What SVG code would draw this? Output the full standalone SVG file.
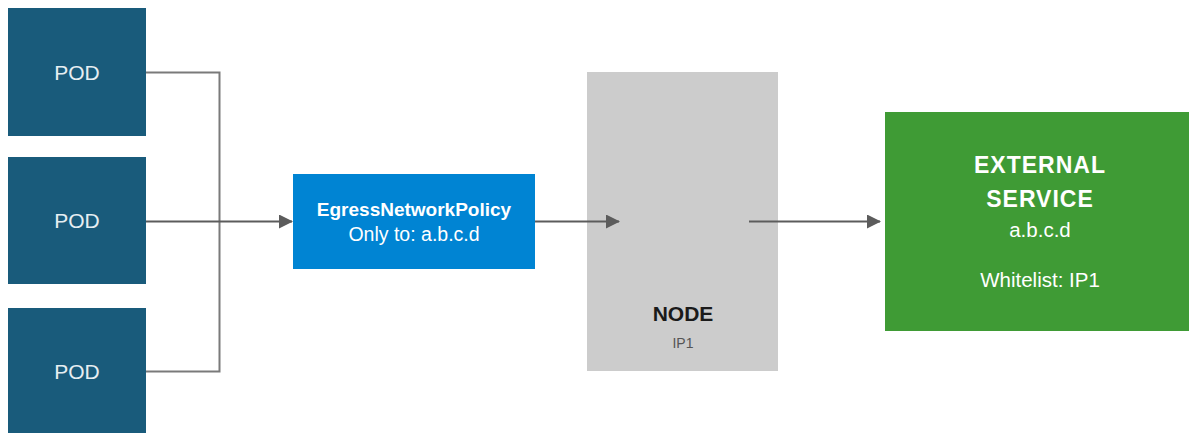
<svg xmlns="http://www.w3.org/2000/svg" width="1189" height="433" viewBox="0 0 1189 433">
<style>
.pod{fill:#195b7b}
.podt{font-family:"Liberation Sans",Arial,sans-serif;font-size:21px;fill:#e6eef2;text-anchor:middle}
.wt{font-family:"Liberation Sans",Arial,sans-serif;fill:#ffffff;text-anchor:middle}
.ln{fill:none;stroke:#7a7a7a;stroke-width:2}
.ar{fill:none;stroke:#5c5c5c;stroke-width:2}
</style>
<defs>
<marker id="ah" markerWidth="14" markerHeight="14" refX="13" refY="7" orient="auto" markerUnits="userSpaceOnUse">
<path d="M0,0 L14,7 L0,14 Z" fill="#5c5c5c"/>
</marker>
</defs>
<rect width="1189" height="433" fill="#ffffff"/>
<g id="pod1"><rect class="pod" x="8" y="8" width="138" height="128"/><text class="podt" x="77" y="80">POD</text></g>
<g id="pod2"><rect class="pod" x="8" y="157" width="138" height="127"/><text class="podt" x="77" y="228">POD</text></g>
<g id="pod3"><rect class="pod" x="8" y="308" width="138" height="125"/><text class="podt" x="77" y="379">POD</text></g>
<g id="egress">
<rect x="293" y="174" width="242" height="95" fill="#0084d3"/>
<text class="wt" x="414" y="216" font-size="19" font-weight="bold">EgressNetworkPolicy</text>
<text class="wt" x="414" y="241" font-size="19.5">Only to: a.b.c.d</text>
</g>
<g id="node">
<rect x="587" y="72" width="191" height="299" fill="#cccccc"/>
<text x="683" y="321" font-family="'Liberation Sans',Arial,sans-serif" font-size="21" font-weight="bold" fill="#1a1a1a" text-anchor="middle">NODE</text>
<text x="683" y="348" font-family="'Liberation Sans',Arial,sans-serif" font-size="14" fill="#555555" text-anchor="middle">IP1</text>
</g>
<g id="external">
<rect x="885" y="112" width="304" height="219" fill="#3f9b35"/>
<text class="wt" x="1040" y="173" font-size="23" font-weight="bold" letter-spacing="1">EXTERNAL</text>
<text class="wt" x="1040" y="207" font-size="23" font-weight="bold" letter-spacing="1">SERVICE</text>
<text class="wt" x="1040" y="237" font-size="20.5">a.b.c.d</text>
<text class="wt" x="1040" y="287" font-size="20.5">Whitelist: IP1</text>
</g>
<g id="connectors">
<path class="ln" d="M146,72.5 H219.5 V371.5 H146"/>
<path class="ar" d="M146,221.5 H292" marker-end="url(#ah)"/>
<path class="ar" d="M535,221.5 H619" marker-end="url(#ah)"/>
<path class="ar" d="M749,221.5 H880" marker-end="url(#ah)"/>
</g>
</svg>
